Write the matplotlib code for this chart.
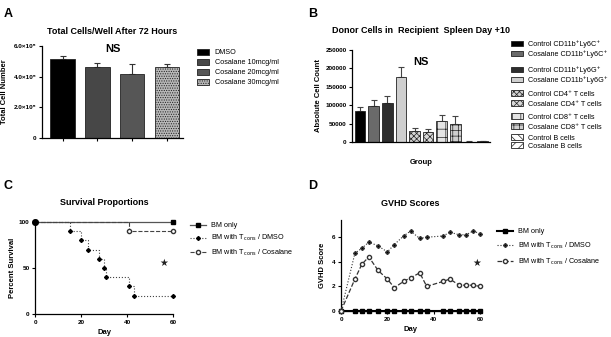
import matplotlib
matplotlib.use('Agg')
import matplotlib.pyplot as plt
import numpy as np

plt.rcParams['font.family'] = ['Liberation Sans', 'DejaVu Sans']
plt.rcParams['hatch.linewidth'] = 0.5

# --- Panel A data
a_labels = ['DMSO', 'Cosalane 10mcg/ml', 'Cosalane 20mcg/ml', 'Cosalane 30mcg/ml']
a_means = [5.13e5, 4.65e5, 4.2e5, 4.63e5]
a_err = [0.25e5, 0.25e5, 0.62e5, 0.17e5]
a_ticks = [0, 2e5, 4e5, 6e5]
a_ticklabels = ['0', '2.0×10⁵', '4.0×10⁵', '6.0×10⁵']

# --- Panel B data
b_labels = ['Control CD11b⁺Ly6C⁺', 'Cosalane CD11b⁺Ly6C⁺',
            'Control CD11b⁺Ly6G⁺', 'Cosalane CD11b⁺Ly6G⁺',
            'Control CD4⁺ T cells', 'Cosalane CD4⁺ T cells',
            'Control CD8⁺ T cells', 'Cosalane CD8⁺ T cells',
            'Control B cells', 'Cosalane B cells']
b_means = [83000, 98000, 106000, 176000, 30000, 27000, 58000, 50000, 1000, 1500]
b_err = [12000, 16000, 18000, 29000, 8000, 8000, 15000, 21000, 500, 500]

# --- Panel C data (survival)
surv_bm_days = [0, 60]
surv_bm = [100, 100]
surv_dmso_days = [0, 15, 20, 23, 28, 30, 31, 41, 43, 60]
surv_dmso = [100, 90, 80, 70, 60, 50, 40, 30, 20, 20]
surv_cos_days = [0, 41, 60]
surv_cos = [100, 90, 90]

# --- Panel D data (GVHD scores)
gvhd_days = [0, 6, 9, 12, 16, 20, 23, 27, 30, 34, 37, 44, 47, 51, 54, 57, 60]
gvhd_bm = [0] * len(gvhd_days)
gvhd_dmso = [0, 4.7, 5.1, 5.6, 5.3, 4.8, 5.4, 6.1, 6.5, 5.9, 6.0, 6.1, 6.4, 6.2, 6.2, 6.5, 6.3]
gvhd_cos = [0, 2.6, 3.8, 4.4, 3.3, 2.6, 1.9, 2.4, 2.7, 3.1, 2.0, 2.4, 2.6, 2.1, 2.1, 2.1, 2.0]

W, H = 611, 337
fig = plt.figure(figsize=(W / 100, H / 100), dpi=100)


def add_ax(l, t, r, b):
    ax = fig.add_axes([l / W, 1 - b / H, (r - l) / W, (b - t) / H])
    for s in ['top', 'right']:
        ax.spines[s].set_visible(False)
    for s in ['left', 'bottom']:
        ax.spines[s].set_linewidth(0.9)
    ax.tick_params(labelsize=4.6, width=0.8, length=2.5, pad=1.5)
    return ax


def bold_ticks(ax):
    for lab in ax.get_xticklabels() + ax.get_yticklabels():
        lab.set_fontweight('bold')


tfont = dict(fontsize=6.5, fontweight='bold')
lfont = dict(fontsize=5.5, fontweight='bold')

# panel letters
for txt, x, y in [('A', 4, 14), ('B', 308, 14), ('C', 4, 186), ('D', 308, 186)]:
    fig.text(x / W, 1 - y / H, txt, fontsize=9, fontweight='bold', va='center')

# ---------------- A
ax = add_ax(42, 46, 183, 138)
xa = np.arange(len(a_means))
a_colors = ['#000000', '#474747', '#565656', '#b8b8b8']
a_hatch = [None, None, None, '.......']
for i in range(len(a_means)):
    ax.bar(xa[i], a_means[i], 0.7, color=a_colors[i], edgecolor='#222222', linewidth=0.6,
           hatch=a_hatch[i], label=a_labels[i], zorder=2)
    ax.errorbar(xa[i], a_means[i], yerr=[[0], [a_err[i]]], color='#333333', capsize=2.5,
                elinewidth=0.8, capthick=0.8, zorder=1)
ax.set_xlim(-0.59, 3.46)
ax.set_ylim(0, 6e5)
ax.set_yticks(a_ticks)
ax.set_yticklabels(a_ticklabels)
ax.set_xticks(xa)
ax.set_xticklabels([])
bold_ticks(ax)
ax.set_ylabel('Total Cell Number', **lfont)
ax.yaxis.set_label_coords(-0.24, 0.5)
ax.set_title('Total Cells/Well After 72 Hours', pad=9, **tfont)
ax.text(0.5, 0.97, 'NS', transform=ax.transAxes, ha='center', va='center', fontsize=8, fontweight='bold')
ax.legend(loc='upper left', bbox_to_anchor=(1.08, 1.0), frameon=False, fontsize=5.2,
          handlelength=1.6, handleheight=0.9, labelspacing=0.35, handletextpad=0.8, borderaxespad=0)

# ---------------- B
ax = add_ax(352, 50, 490, 142)
xb = np.arange(len(b_means))
b_colors = ['#000000', '#6a6a6a', '#2e2e2e', '#cfcfcf', '#d2d2d2', '#d8d8d8', '#e4e4e4', '#cfcfcf', '#ffffff', '#ffffff']
b_hatch = [None, None, None, None, 'xxxxxx', 'xxxxx', '++', '+++', '\\\\\\\\', '////']
handles = []
for i in range(len(b_means)):
    bar = ax.bar(xb[i], b_means[i], 0.78, color=b_colors[i], edgecolor='#222222', linewidth=0.6,
                 hatch=b_hatch[i], label=b_labels[i], zorder=2)
    handles.append(bar)
    ax.errorbar(xb[i], b_means[i], yerr=[[0], [b_err[i]]], color='#444444', capsize=2.5,
                elinewidth=0.8, capthick=0.8, zorder=1)
ax.set_xlim(-0.59, 9.54)
ax.set_ylim(0, 250000)
ax.set_yticks(np.arange(0, 250001, 50000))
ax.set_xticks([])
bold_ticks(ax)
ax.set_ylabel('Absolute Cell Count', labelpad=2, **lfont)
ax.set_xlabel('Group', labelpad=12, **lfont)
ax.set_title('Donor Cells in  Recipient  Spleen Day +10', pad=12, **tfont)
ax.text(0.5, 0.87, 'NS', transform=ax.transAxes, ha='center', va='center', fontsize=8, fontweight='bold')
# one legend entry each, grouped in pairs like the original
legend_y = [44, 54, 70, 80, 94, 104, 117, 127, 138, 146]
for k in range(len(b_labels)):
    fig.legend([handles[k]], [b_labels[k]], loc='center left',
               bbox_to_anchor=(511 / W, 1 - legend_y[k] / H), frameon=False, fontsize=5.2,
               handlelength=1.6, handleheight=0.8, handletextpad=0.8,
               borderaxespad=0, borderpad=0)

# ---------------- C
ax = add_ax(35, 222, 173, 314)
ax.step(surv_bm_days, surv_bm, where='post', color='#555555', lw=0.9, marker='s', ms=3,
        mfc='black', mec='black', label='BM only', clip_on=False, zorder=3)
ax.step(surv_dmso_days, surv_dmso, where='post', color='#444444', lw=0.8, ls=':', marker='D', ms=2,
        mfc='black', mec='black', label='BM with T$_{\\rm cons}$ / DMSO', clip_on=False, zorder=3)
ax.step(surv_cos_days, surv_cos, where='post', color='#444444', lw=0.8, ls='--', marker='o', ms=3,
        mfc='white', mec='#333333', label='BM with T$_{\\rm cons}$ / Cosalane', clip_on=False, zorder=3)
ax.plot(surv_bm_days[:1], surv_bm[:1], 'o', color='black', ms=4, clip_on=False, zorder=4)
ax.set_xlim(0, 60)
ax.set_ylim(0, 100)
ax.set_xticks([0, 20, 40, 60])
ax.set_yticks([0, 50, 100])
bold_ticks(ax)
ax.set_xlabel('Day', labelpad=3, **lfont)
ax.set_ylabel('Percent Survival', labelpad=2, **lfont)
ax.set_title('Survival Proportions', pad=12, **tfont)
ax.text(56, 55, '\u2605', ha='center', va='center', fontsize=7, family='DejaVu Sans', color='#222222')
ax.legend(loc='upper left', bbox_to_anchor=(1.1, 1.03), frameon=False, fontsize=5.2,
          handlelength=2.2, labelspacing=0.55, handletextpad=0.8, borderaxespad=0)

# ---------------- D
ax = add_ax(341, 220, 480, 311)
ax.plot(gvhd_days, gvhd_bm, color='black', lw=1.5, marker='s', ms=3, label='BM only',
        clip_on=False, zorder=3)
ax.plot(gvhd_days, gvhd_dmso, color='#333333', lw=0.8, ls=':', marker='D', ms=2,
        mfc='black', label='BM with T$_{\\rm cons}$ / DMSO', clip_on=False, zorder=3)
ax.plot(gvhd_days, gvhd_cos, color='#333333', lw=0.9, ls='--', marker='o', ms=3,
        mfc='white', mec='#333333', label='BM with T$_{\\rm cons}$ / Cosalane', clip_on=False, zorder=3)
ax.set_xlim(0, 60)
ax.set_ylim(0, 7.4)
ax.set_xticks([0, 20, 40, 60])
ax.set_yticks([0, 2, 4, 6])
bold_ticks(ax)
ax.set_xlabel('Day', labelpad=3, **lfont)
ax.set_ylabel('GVHD Score', labelpad=4, **lfont)
ax.set_title('GVHD Scores', pad=10, **tfont)
ax.text(58.5, 3.9, '\u2605', ha='center', va='center', fontsize=7, family='DejaVu Sans', color='#222222')
ax.legend(loc='upper left', bbox_to_anchor=(1.1, 0.94), frameon=False, fontsize=5.2,
          handlelength=2.2, labelspacing=0.75, handletextpad=0.8, borderaxespad=0)

fig.savefig('out.png', dpi=100)
